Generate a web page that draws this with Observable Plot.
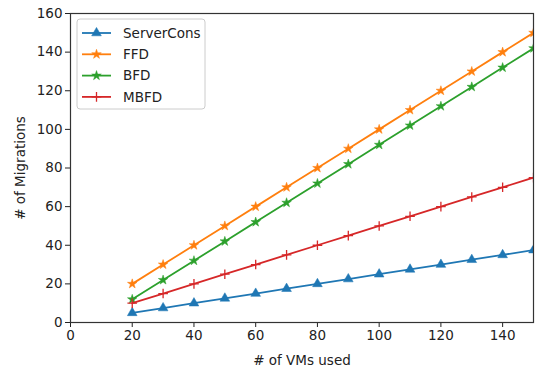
<!DOCTYPE html>
<html><head><meta charset="utf-8">
<script src="https://cdn.jsdelivr.net/npm/d3@7"></script>
<script src="https://cdn.jsdelivr.net/npm/@observablehq/plot@0.6"></script>
<style>body{margin:0;background:#fff}svg{font-family:"DejaVu Sans",sans-serif}</style>
</head><body><div id="chart"></div>
<script>
const vms = [20,30,40,50,60,70,80,90,100,110,120,130,140,150];
const serverCons = [5,7.5,10,12.5,15,17.5,20,22.5,25,27.5,30,32.5,35,37.5];
const ffd = [20,30,40,50,60,70,80,90,100,110,120,130,140,150];
const bfd = [12,22,32,42,52,62,72,82,92,102,112,122,132,142];
const mbfd = [10,15,20,25,30,35,40,45,50,55,60,65,70,75];
const xTicks = [0,20,40,60,80,100,120,140];
const yTicks = [0,20,40,60,80,100,120,140,160];

const series = [
  {name:"ServerCons", values:serverCons, color:"#1f77b4", symbol:"triangle", r:3.6, fill:true},
  {name:"FFD", values:ffd, color:"#ff7f0e", symbol:"star", r:3.0, fill:true},
  {name:"BFD", values:bfd, color:"#2ca02c", symbol:"star", r:3.0, fill:true},
  {name:"MBFD", values:mbfd, color:"#d62728", symbol:"plus", r:3.2, fill:false}
];
const rows = series.flatMap(s => vms.map((v,i) => ({x:v, y:s.values[i], name:s.name})));

const marks = [];
series.forEach(s => {
  const d = rows.filter(r => r.name === s.name);
  marks.push(Plot.line(d, {x:"x", y:"y", stroke:s.color, strokeWidth:1.8, clip:true}));
  marks.push(Plot.dot(d, {x:"x", y:"y", symbol:()=>s.symbol, r:s.r, clip:true,
    fill: s.fill ? s.color : "none", stroke:s.color, strokeWidth: s.fill ? 0.5 : 1.3}));
});

const plot = Plot.plot({
  width:535, height:371,
  marginLeft:70, marginRight:2, marginTop:13, marginBottom:49,
  style:{fontSize:"13.5px", fontFamily:"DejaVu Sans, sans-serif", color:"#222"},
  x:{domain:[0,150], ticks:xTicks, tickSize:5, tickPadding:3, label:"# of VMs used", labelArrow:"none", labelAnchor:"center", labelOffset:42},
  y:{domain:[0,160], ticks:yTicks, tickSize:5, tickPadding:3, label:"# of Migrations", labelArrow:"none", labelAnchor:"center", labelOffset:55},
  symbol:{type:"identity"},
  marks:[
    ...marks,
    Plot.frame({stroke:"#333", strokeWidth:1.2})
  ]
});
document.getElementById("chart").appendChild(plot);

// legend
const svg = d3.select(plot);
const lg = svg.append("g").attr("transform","translate(77,19)");
lg.append("rect").attr("width",128).attr("height",90).attr("rx",3)
  .attr("fill","#fff").attr("fill-opacity",0.8).attr("stroke","#ccc");
series.forEach((s,i) => {
  const yy = 14 + i*21.3;
  const g = lg.append("g").attr("transform",`translate(0,${yy})`);
  g.append("line").attr("x1",5).attr("x2",34).attr("stroke",s.color).attr("stroke-width",1.8);
  const sym = {triangle:d3.symbolTriangle, star:d3.symbolStar, plus:d3.symbolPlus}[s.symbol];
  g.append("path").attr("transform","translate(19.5,0)")
    .attr("d", d3.symbol(sym, Math.PI*s.r*s.r)())
    .attr("fill", s.fill ? s.color : "none").attr("stroke", s.color).attr("stroke-width", s.fill?0.5:1.3);
  g.append("text").attr("x",46).attr("y",0).attr("dy","0.35em").attr("text-anchor","start")
    .attr("font-size","13.5px").attr("fill","#222").text(s.name);
});
</script></body></html>
